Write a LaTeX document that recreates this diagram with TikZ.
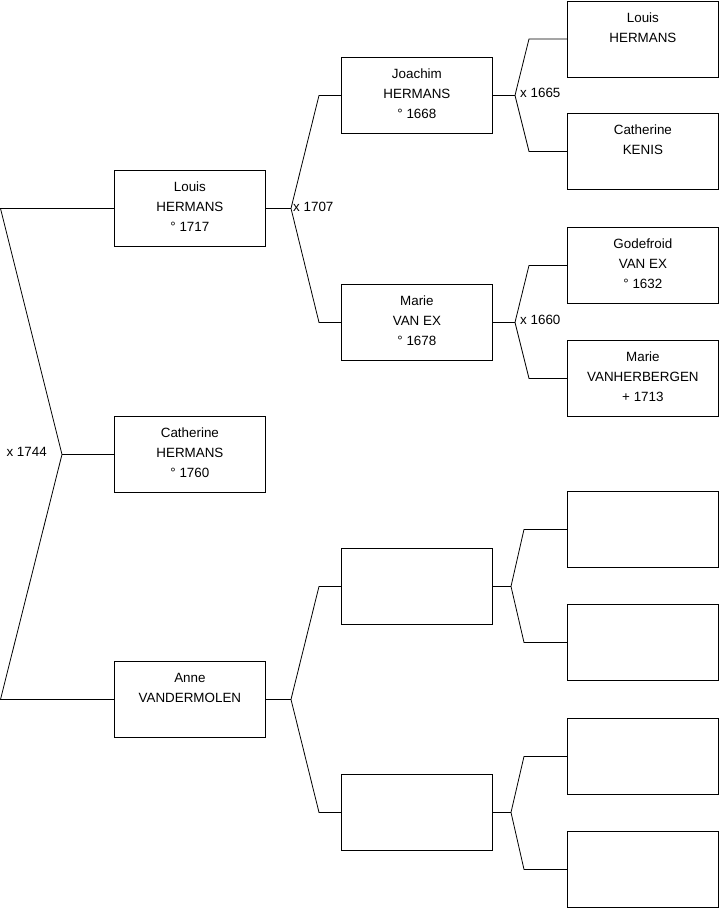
\documentclass[tikz,border=0pt]{standalone}
\usepackage{fontspec}
\setmainfont{Liberation Sans}
\tikzset{
  person/.style={draw=black, line width=0.8pt, inner sep=0pt, anchor=north west},
  conn/.style={line width=0.8pt, draw=black, line join=miter},
  lbl/.style={font=\fontsize{13.4}{15}\selectfont, inner sep=0pt}
}
\newcommand\ptext[1]{\parbox[c][76pt][t]{151pt}{\centering\fontsize{13.4}{20}\selectfont\rule{0pt}{21.5pt}#1}}
\begin{document}
\begin{tikzpicture}[x=1pt,y=-1pt]
\useasboundingbox (0,0) rectangle (719,908);
% column 1
\node[person] (A) at (114,170) {\ptext{Louis\\HERMANS\\° 1717}};
\node[person] (B) at (114,416) {\ptext{Catherine\\HERMANS\\° 1760}};
\node[person] (C) at (114,661) {\ptext{Anne\\VANDERMOLEN}};
% column 2
\node[person] (D) at (341,57) {\ptext{Joachim\\HERMANS\\° 1668}};
\node[person] (E) at (341,284) {\ptext{Marie\\VAN EX\\° 1678}};
\node[person] (F) at (341,548) {\ptext{}};
\node[person] (G) at (341,774) {\ptext{}};
% column 3
\node[person] (H) at (567,0.5) {\ptext{Louis\\HERMANS}};
\node[person] (I) at (567,113) {\ptext{Catherine\\KENIS}};
\node[person] (J) at (567,227) {\ptext{Godefroid\\VAN EX\\° 1632}};
\node[person] (K) at (567,340) {\ptext{Marie\\VANHERBERGEN\\+ 1713}};
\node[person] (L) at (567,491) {\ptext{}};
\node[person] (M) at (567,604) {\ptext{}};
\node[person] (N) at (567,718) {\ptext{}};
\node[person] (O) at (567,831) {\ptext{}};
% branch coordinates (aligned to the box anchors)
\coordinate (b0) at (62,0 |- B.west);
\coordinate (b0u) at (0.5,0 |- A.west);
\coordinate (b0d) at (0.5,0 |- C.west);
\coordinate (b1) at (291,0 |- A.east);
\coordinate (b1u) at (319,0 |- D.west);
\coordinate (b1d) at (319,0 |- E.west);
\coordinate (b2) at (291,0 |- C.east);
\coordinate (b2u) at (319,0 |- F.west);
\coordinate (b2d) at (319,0 |- G.west);
\coordinate (b3) at (515,0 |- D.east);
\coordinate (b3u) at (529,0 |- H.west);
\coordinate (b3d) at (529,0 |- I.west);
\coordinate (b4) at (515,0 |- E.east);
\coordinate (b4u) at (529,0 |- J.west);
\coordinate (b4d) at (529,0 |- K.west);
\coordinate (b5) at (511,0 |- F.east);
\coordinate (b5u) at (524,0 |- L.west);
\coordinate (b5d) at (524,0 |- M.west);
\coordinate (b6) at (511,0 |- G.east);
\coordinate (b6u) at (524,0 |- N.west);
\coordinate (b6d) at (524,0 |- O.west);
% connectors
\draw[conn] (B.west) -- (b0);
\draw[conn] (A.west) -- (b0u) -- (b0) -- (b0d) -- (C.west);
\draw[conn] (A.east) -- (b1);
\draw[conn] (D.west) -- (b1u) -- (b1) -- (b1d) -- (E.west);
\draw[conn] (C.east) -- (b2);
\draw[conn] (F.west) -- (b2u) -- (b2) -- (b2d) -- (G.west);
\draw[conn] (D.east) -- (b3);
\draw[conn] (H.west) -- (b3u) -- (b3) -- (b3d) -- (I.west);
\draw[conn] (E.east) -- (b4);
\draw[conn] (J.west) -- (b4u) -- (b4) -- (b4d) -- (K.west);
\draw[conn] (F.east) -- (b5);
\draw[conn] (L.west) -- (b5u) -- (b5) -- (b5d) -- (M.west);
\draw[conn] (G.east) -- (b6);
\draw[conn] (N.west) -- (b6u) -- (b6) -- (b6d) -- (O.west);
% marriage labels
\node[lbl, anchor=east] (m0) at (47,452) {x 1744};
\node[lbl, anchor=west] (m1) at (293,207) {x 1707};
\node[lbl, anchor=west] (m2) at (520,93) {x 1665};
\node[lbl, anchor=west] (m3) at (520,320) {x 1660};
\end{tikzpicture}
\end{document}
